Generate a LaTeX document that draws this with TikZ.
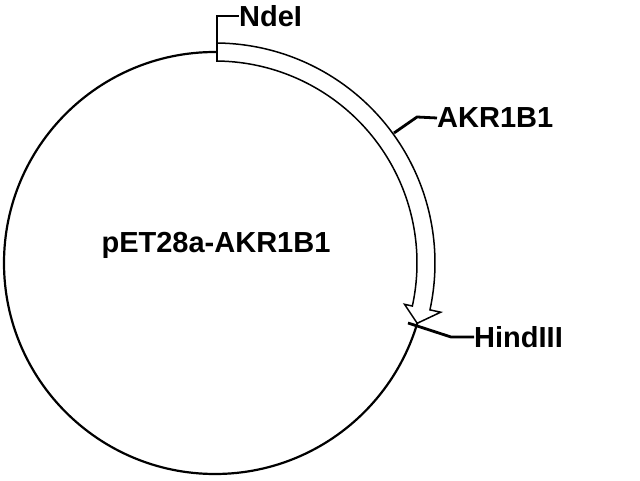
\documentclass[tikz,border=0pt]{standalone}
\usepackage{fontspec}
\setmainfont{Liberation Sans}
\usetikzlibrary{calc}
\begin{document}
\begin{tikzpicture}[x=1pt,y=1pt,
  lbl/.style={font=\fontsize{29}{31}\selectfont\bfseries, inner sep=0pt, anchor=west},
  leader/.style={line width=2.8pt, line join=miter},
  ring/.style={line width=2.2pt},
  featarrow/.style={line width=1.5pt, fill=white, line join=miter}]
\useasboundingbox (0,0) rectangle (640,480);
\coordinate (C) at (215,217);
% backbone
\draw[ring] (C) circle[radius=211];
% feature arrow
\draw[featarrow] ($(C)+(89.5:220)$) arc[start angle=89.5, end angle=-12.3, radius=220]
  -- ($(C)+(-12.3:231)$) -- ($(C)+(-16.6:211)$) -- ($(C)+(-12.3:194)$)
  -- ($(C)+(-12.3:202)$) arc[start angle=-12.3, end angle=89.5, radius=202] -- cycle;
% labels
\node[lbl] (ndei) at (239,464) {NdeI};
\node[lbl] (akr) at (437,362) {AKR1B1};
\node[lbl] (hind) at (474,143) {HindIII};
\node[font=\fontsize{29}{31}\selectfont\bfseries, inner sep=0pt] (name) at (216,235) {pET28a-AKR1B1};
% leaders
\coordinate (n0) at (217,418);
\draw[leader] (n0) -- (217,464) -- (ndei.west);
\coordinate (a0) at (394,347);
\draw[leader] (a0) -- (417,363) -- (akr.west);
\coordinate (h0) at (408,157);
\draw[leader] (h0) -- (451,143) -- (hind.west);
\end{tikzpicture}
\end{document}
